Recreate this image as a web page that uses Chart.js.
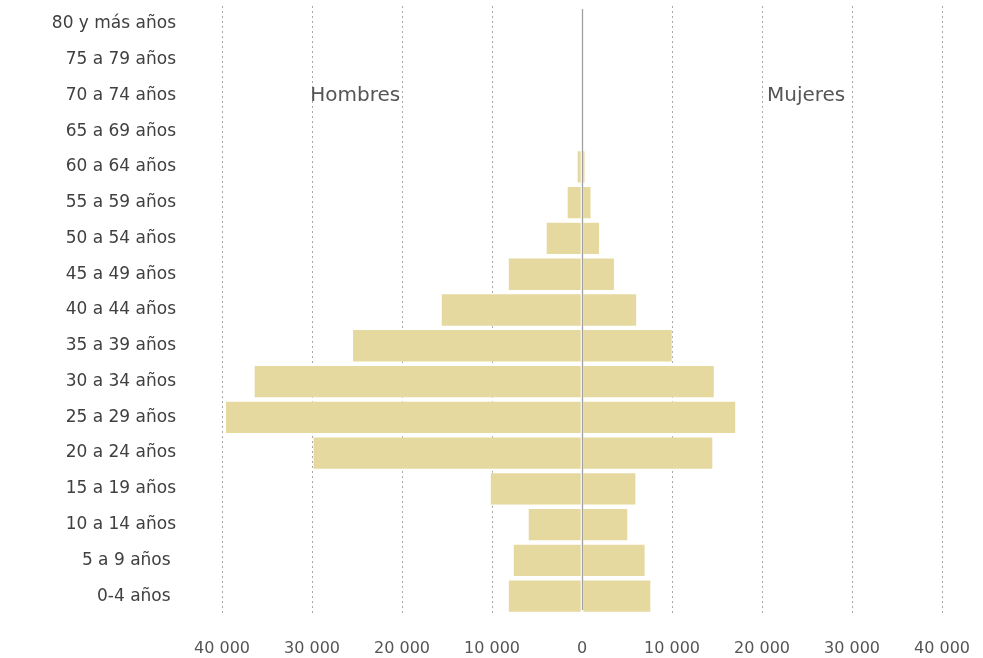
<!DOCTYPE html>
<html>
<head>
<meta charset="utf-8">
<script src="https://cdn.jsdelivr.net/npm/chart.js@4.4.1/dist/chart.umd.min.js"></script>
<style>
html,body{margin:0;padding:0;background:#fff;overflow:hidden;}
canvas{display:block;}
</style>
</head>
<body>
<canvas id="c" width="983" height="658" style="width:983px;height:658px"></canvas>
<script>
const categories = ["80 y más años","75 a 79 años","70 a 74 años","65 a 69 años","60 a 64 años","55 a 59 años","50 a 54 años","45 a 49 años","40 a 44 años","35 a 39 años","30 a 34 años","25 a 29 años","20 a 24 años","15 a 19 años","10 a 14 años","5 a 9 años ","0-4 años "];
const hombres = [0, 0, 30, 200, 570, 1680, 4010, 8220, 15670, 25530, 36460, 39650, 29910, 10220, 6010, 7670, 8220];
const mujeres = [0, 0, 30, 200, 370, 1040, 1980, 3640, 6110, 10060, 14730, 17110, 14570, 6020, 5120, 7040, 7680];
const xTicks = [-40000,-30000,-20000,-10000,0,10000,20000,30000,40000];
const sideLabels = [{text:"Hombres", x:-25200, cat:"70 a 74 años"},{text:"Mujeres", x:24900, cat:"70 a 74 años"}];

const FONT = "'DejaVu Sans', sans-serif";
const barColor = "rgba(230,217,160,1)";

function fmt(v){
  const s = String(Math.abs(v));
  return s.replace(/\B(?=(\d{3})+(?!\d))/g, " ");
}

const overlay = {
  id:'overlay',
  afterDatasetsDraw(chart){
    const ctx = chart.ctx, x = chart.scales.x, y = chart.scales.y;
    const ca = chart.chartArea;
    ctx.save();
    const x0 = Math.round(x.getPixelForValue(0)) + 0.5;
    ctx.strokeStyle = '#a0a0a0';
    ctx.lineWidth = 1.3;
    ctx.beginPath();
    ctx.moveTo(x0, ca.top + 3);
    ctx.lineTo(x0, ca.bottom - 4);
    ctx.stroke();
    ctx.fillStyle = '#555555';
    ctx.font = "20px " + FONT;
    ctx.textAlign = 'center';
    ctx.textBaseline = 'middle';
    sideLabels.forEach(l=>{
      ctx.fillText(l.text, x.getPixelForValue(l.x), y.getPixelForValue(categories.indexOf(l.cat)));
    });
    ctx.restore();
  }
};

new Chart(document.getElementById('c'), {
  type:'bar',
  data:{
    labels: categories,
    datasets:[
      {label:'Hombres', data: hombres.map(v=>-v), backgroundColor: barColor, borderColor:'rgba(255,255,255,0.5)', borderWidth:0.8, borderSkipped:false, barPercentage:1, categoryPercentage:0.92},
      {label:'Mujeres', data: mujeres, backgroundColor: barColor, borderColor:'rgba(255,255,255,0.5)', borderWidth:0.8, borderSkipped:false, barPercentage:1, categoryPercentage:0.92}
    ]
  },
  options:{
    indexAxis:'y',
    responsive:false,
    devicePixelRatio:1,
    animation:false,
    layout:{padding:{top:6,right:41,bottom:0,left:0}},
    plugins:{legend:{display:false}, tooltip:{enabled:false}},
    scales:{
      x:{
        stacked:true,
        min:-40000, max:40000,
        z:1,
        afterBuildTicks(axis){ axis.ticks = xTicks.map(v=>({value:v})); },
        afterFit(axis){ axis.paddingLeft = 0; axis.paddingRight = 0; axis.height = 44; },
        ticks:{
          callback:(v)=>fmt(v),
          font:{family:FONT, size:16},
          color:'#555555',
          padding:25,
          maxRotation:0
        },
        grid:{
          drawTicks:false,
          color:(c)=> (c.tick && c.tick.value===0) ? 'rgba(0,0,0,0)' : '#a8a8a8',
          lineWidth:1
        },
        border:{display:false, dash:[2,3]}
      },
      y:{
        stacked:true,
        afterFit(axis){ axis.width = 222; axis.paddingTop = 0; axis.paddingBottom = 0; },
        ticks:{
          font:{family:FONT, size:17},
          color:'#404040',
          padding:46,
          autoSkip:false
        },
        grid:{display:false, drawTicks:false},
        border:{display:false}
      }
    }
  },
  plugins:[overlay]
});
</script>
</body>
</html>
